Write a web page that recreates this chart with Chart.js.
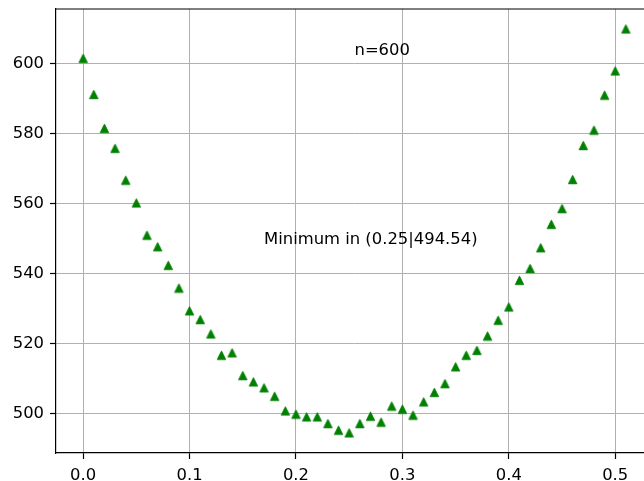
<!DOCTYPE html>
<html>
<head>
<meta charset="utf-8">
<script src="https://cdn.jsdelivr.net/npm/chart.js@4/dist/chart.umd.min.js"></script>
<style>
html,body{margin:0;padding:0;background:#fff;overflow:hidden;width:644px;height:481px;}
#wrap{position:absolute;left:0;top:0;width:680px;height:481px;}
</style>
</head>
<body>
<div id="wrap"><canvas id="c" width="680" height="481"></canvas></div>
<script>
const xValues = [0.00,0.01,0.02,0.03,0.04,0.05,0.06,0.07,0.08,0.09,
  0.10,0.11,0.12,0.13,0.14,0.15,0.16,0.17,0.18,0.19,
  0.20,0.21,0.22,0.23,0.24,0.25,0.26,0.27,0.28,0.29,
  0.30,0.31,0.32,0.33,0.34,0.35,0.36,0.37,0.38,0.39,
  0.40,0.41,0.42,0.43,0.44,0.45,0.46,0.47,0.48,0.49,
  0.50,0.51];
const yValues = [601.5,591.2,581.5,575.8,566.7,560.2,551.0,547.7,542.4,535.9,
  529.4,526.9,522.8,516.7,517.4,510.9,509.1,507.4,505.0,500.8,
  499.9,499.1,499.1,497.2,495.3,494.54,497.2,499.3,497.6,502.2,
  501.3,499.6,503.4,506.1,508.6,513.4,516.7,518.1,522.2,526.7,
  530.5,538.1,541.5,547.4,554.1,558.6,566.9,576.6,581.0,591.0,
  597.9,609.9];
const xTicks = [0.0,0.1,0.2,0.3,0.4,0.5];
const yTicks = [500,520,540,560,580,600];
const annotations = [
  {text:'n=600', x:0.255, y:603.6},
  {text:'Minimum in (0.25|494.54)', x:0.170, y:549.6}
];

const FONT = 'DejaVu Sans';
const FS = 16.4;

// matplotlib-like '^' marker
function makeTriangle(){
  const c = document.createElement('canvas');
  c.width = 11; c.height = 11;
  const g = c.getContext('2d');
  g.fillStyle = '#008000';
  g.strokeStyle = '#008000';
  g.lineWidth = 1;
  g.beginPath();
  g.moveTo(5.5, 1.3);
  g.lineTo(9.7, 9.7);
  g.lineTo(1.3, 9.7);
  g.closePath();
  g.fill(); g.stroke();
  return c;
}
const tri = makeTriangle();

const points = xValues.map((x,i)=>({x:x, y:yValues[i]}));

const extras = {
  id:'extras',
  afterDraw(chart){
    const {ctx, chartArea, scales} = chart;
    ctx.save();
    ctx.strokeStyle = '#000';
    ctx.lineWidth = 1.2;
    ctx.beginPath();
    ctx.moveTo(chartArea.left, chartArea.top);
    ctx.lineTo(chartArea.right, chartArea.top);
    ctx.stroke();
    ctx.fillStyle = '#000';
    ctx.font = FS + 'px "' + FONT + '"';
    ctx.textAlign = 'left';
    ctx.textBaseline = 'middle';
    annotations.forEach(a=>{
      ctx.fillText(a.text, scales.x.getPixelForValue(a.x), scales.y.getPixelForValue(a.y));
    });
    ctx.restore();
  }
};

new Chart(document.getElementById('c'), {
  type:'scatter',
  data:{datasets:[{
    data: points,
    pointStyle: tri,
    pointRadius: 5,
    pointHoverRadius: 5,
    backgroundColor:'#008000',
    borderColor:'#008000'
  }]},
  options:{
    responsive:false,
    animation:false,
    devicePixelRatio:1,
    layout:{padding:{top:9,right:27,left:0,bottom:0}},
    plugins:{legend:{display:false},tooltip:{enabled:false}},
    scales:{
      x:{
        type:'linear', min:-0.0255, max:0.5355,
        afterBuildTicks(s){ s.ticks = xTicks.map(v=>({value:v})); },
        afterFit(s){ s.height = 28; s.paddingLeft = 0; s.paddingRight = 0; },
        ticks:{callback:v=>Number(v).toFixed(1), color:'#000', font:{family:FONT,size:FS}, padding:7, maxRotation:0, autoSkip:false},
        grid:{color:'#b0b0b0', lineWidth:1, tickColor:'#000', tickLength:6, tickWidth:1.2},
        border:{color:'#000', width:1.2}
      },
      y:{
        type:'linear', min:488.8, max:615.6,
        afterBuildTicks(s){ s.ticks = yTicks.map(v=>({value:v})); },
        afterFit(s){ s.width = 56; s.paddingTop = 0; s.paddingBottom = 0; },
        ticks:{callback:v=>String(v), color:'#000', font:{family:FONT,size:FS}, padding:6, autoSkip:false},
        grid:{color:'#b0b0b0', lineWidth:1, tickColor:'#000', tickLength:6, tickWidth:1.2},
        border:{color:'#000', width:1.2}
      }
    }
  },
  plugins:[extras]
});
</script>
</body>
</html>
